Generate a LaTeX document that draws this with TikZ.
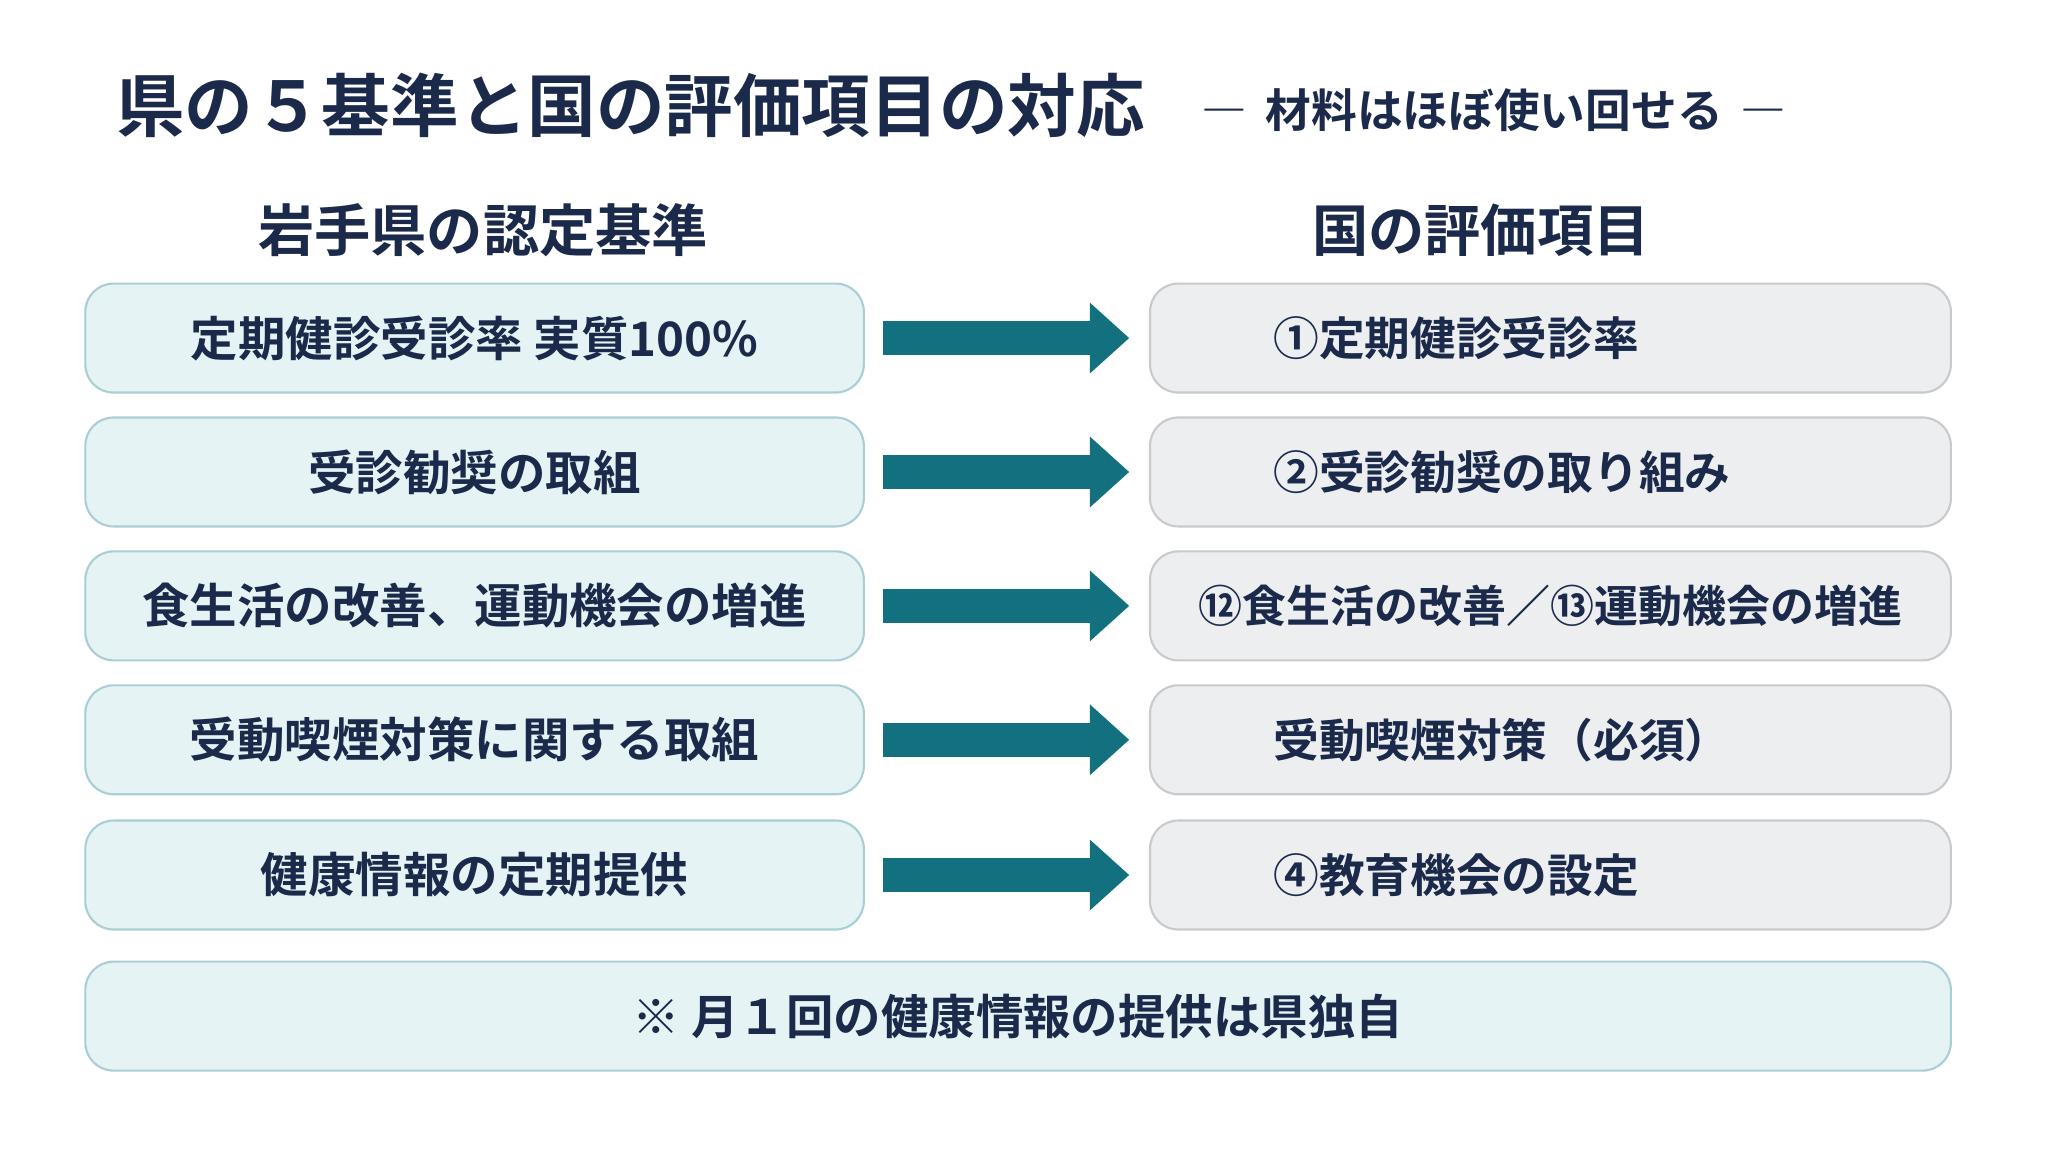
\documentclass[tikz,border=0pt]{standalone}
\usepackage{fontspec}
\setmainfont{Noto Sans CJK JP}[BoldFont={* Bold}]
\usetikzlibrary{arrows.meta}
\definecolor{navy}{HTML}{1B2A4A}
\definecolor{lfill}{HTML}{E6F3F5}
\definecolor{ldraw}{HTML}{A9CFD5}
\definecolor{rfill}{HTML}{EDEEF0}
\definecolor{rdraw}{HTML}{C8CACD}
\definecolor{arrcol}{HTML}{12707F}
\newcommand{\px}{0.013128cm}

\begin{document}
\begin{tikzpicture}[x=\px, y=-\px,
  box/.style={draw, rounded corners=8pt, line width=0.6pt, inner sep=0pt, minimum height=83*\px, text=navy, font=\bfseries\fontsize{13.5}{16}\selectfont},
  lbox/.style={box, fill=lfill, draw=ldraw, minimum width=593*\px},
  rbox/.style={box, fill=rfill, draw=rdraw, inner xsep=94*\px, text width=422*\px, align=left, font=\bfseries\fontsize{13}{16}\selectfont},
  head/.style={text=navy, font=\bfseries\fontsize{16}{18}\selectfont},
  arr/.style={draw=arrcol, line width=26*\px, -{Triangle[length=30*\px, width=52*\px]}}]
    \useasboundingbox (0,0) rectangle (1560,877.5);
    % Title
    \node[anchor=west, inner sep=0pt, text=navy, font=\bfseries\fontsize{19.5}{22}\selectfont] (title) at (88,80) {県の５基準と国の評価項目の対応};
    \node[anchor=west, inner sep=0pt, text=navy, font=\bfseries\fontsize{13}{15}\selectfont] (sub) at (915,84) {―\, 材料はほぼ使い回せる \,―};

    % Column heads
    \node[head] (hl) at (368,175) {岩手県の認定基準};
    \node[head] (hr) at (1128,175) {国の評価項目};

    % Left column
    \node[lbox] (l1) at (361.5,257.5) {定期健診受診率 実質100\%};
    \node[lbox] (l2) at (361.5,359.5) {受診勧奨の取組};
    \node[lbox] (l3) at (361.5,461.5) {食生活の改善、運動機会の増進};
    \node[lbox] (l4) at (361.5,563.5) {受動喫煙対策に関する取組};
    \node[lbox] (l5) at (361.5,666.5) {健康情報の定期提供};

    % Right column
    \node[rbox] (r1) at (1181,257.5) {①定期健診受診率};
    \node[rbox] (r2) at (1181,359.5) {②受診勧奨の取り組み};
    \node[rbox, inner xsep=20*\px, text width=570*\px, align=center, font=\bfseries\fontsize{12.5}{16}\selectfont] (r3) at (1181,461.5) {⑫食生活の改善／⑬運動機会の増進};
    \node[rbox] (r4) at (1181,563.5) {受動喫煙対策（必須）};
    \node[rbox] (r5) at (1181,666.5) {④教育機会の設定};

    \foreach \i in {1,...,5}
        \draw[arr] ([xshift=14*\px]l\i.east) -- ([xshift=-15*\px]r\i.west);

    % Note
    \node[box, fill=lfill, draw=ldraw, minimum width=1421*\px] (note) at (775.5,774) {※ 月１回の健康情報の提供は県独自};
\end{tikzpicture}
\end{document}
